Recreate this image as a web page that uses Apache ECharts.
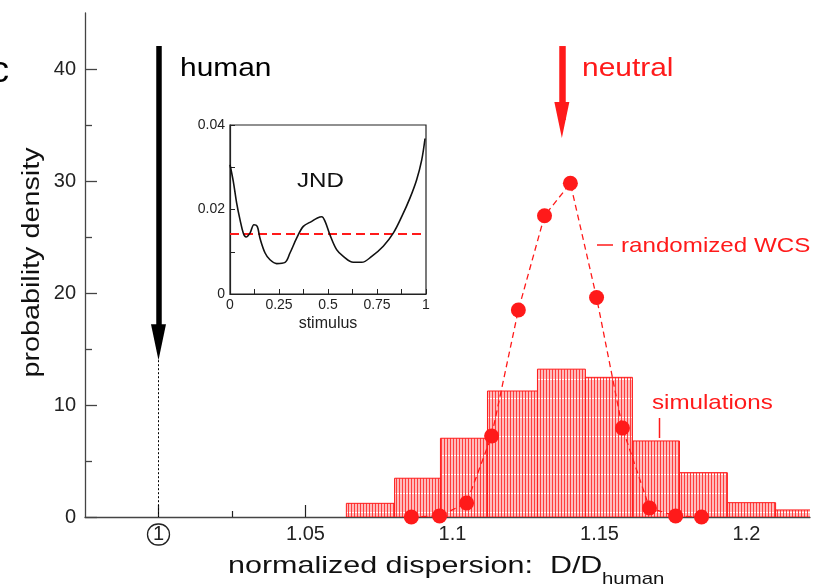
<!DOCTYPE html>
<html>
<head>
<meta charset="utf-8">
<script src="https://cdn.jsdelivr.net/npm/echarts@6/dist/echarts.min.js"></script>
<style>
  html, body { margin: 0; padding: 0; background: #fff; }
  #main { width: 818px; height: 584px; }
</style>
</head>
<body>
<div id="main"></div>
<script>
// histogram of simulations: bin edges and heights
const binEdges = [1.0639, 1.0803, 1.0959, 1.1119, 1.1289, 1.1452, 1.1612, 1.1772, 1.1935, 1.2099, 1.2263];
const binHeights = [1.22, 3.46, 7.03, 11.25, 13.2, 12.47, 6.79, 3.96, 1.28, 0.63];

// randomized WCS points
const wcsX = [1.086, 1.0956, 1.1048, 1.1133, 1.1224, 1.1313, 1.1401, 1.149, 1.1578, 1.167, 1.1759, 1.1847];
const wcsY = [0, 0.1, 1.25, 7.23, 18.48, 26.9, 29.8, 19.6, 7.95, 0.8, 0.1, 0];

// arrows (start, arrow anchor) and the dotted guide for human
const humanArrow = [[1.0, 42.05], [1.0, 15.6]];
const humanGuide = [[1.0, 14.0], [1.0, 0]];
const neutralArrow = [[1.1372, 42.05], [1.1372, 35.45]];

// inset: JND vs stimulus
const stimulus = [0, 0.017, 0.034, 0.051, 0.068, 0.082, 0.102, 0.122, 0.139, 0.153, 0.179, 0.204, 0.238, 0.281,
  0.306, 0.34, 0.374, 0.417, 0.446, 0.468, 0.485, 0.51, 0.544, 0.578, 0.629, 0.672, 0.723, 0.782, 0.833, 0.876,
  0.918, 0.952, 0.978, 0.995];
const jnd = [0.0306, 0.0266, 0.0215, 0.0176, 0.0144, 0.0135, 0.0144, 0.0164, 0.016, 0.0132, 0.0097, 0.0081, 0.0072,
  0.0075, 0.0097, 0.0132, 0.016, 0.0172, 0.018, 0.0183, 0.0172, 0.014, 0.0105, 0.0089, 0.0075, 0.0075, 0.0089,
  0.0113, 0.0144, 0.0183, 0.0227, 0.027, 0.0317, 0.0368];
const jndMean = 0.0142;

// tick labels
const xTickLabels = ['1', '1.05', '1.1', '1.15', '1.2'];
const yTickLabels = ['0', '10', '20', '30', '40'];

const RED = '#ff1a1a';
const FONT = '"Liberation Sans", Arial, sans-serif';

// hatched fill for the histogram
const tile = document.createElement('canvas');
tile.width = 3;
tile.height = 19;
const g = tile.getContext('2d');
g.fillStyle = '#ffbaba';
g.fillRect(0, 0, 3, 19);
g.fillStyle = '#ff3c3c';
g.fillRect(0, 0, 1, 19);
g.fillStyle = '#ffffff';
g.fillRect(1, 18, 2, 1);
const hatch = { image: tile, repeat: 'repeat' };

const myChart = echarts.init(document.getElementById('main'), null, { renderer: 'canvas' });

function fmt(v) {
  return String(Math.round(v * 1000) / 1000);
}

myChart.setOption({
  animation: false,
  textStyle: { fontFamily: FONT },
  grid: [
    // data grid
    { left: 85, right: 8, top: 13, bottom: 67 },
    // tick grid (1.0..1.2, 0..40)
    { left: 158.5, right: 71.5, top: 69, bottom: 67 },
    // inset
    { left: 230, right: 392, top: 125, bottom: 290, show: true, borderColor: '#222', borderWidth: 1.2, backgroundColor: '#fff' }
  ],
  xAxis: [
    {
      gridIndex: 0, type: 'value', min: 0.975, max: 1.2216,
      axisLine: { lineStyle: { color: '#444', width: 1.3 } },
      axisTick: { show: false }, axisLabel: { show: false }, splitLine: { show: false }
    },
    {
      gridIndex: 1, type: 'value', min: 1, max: 1.2, interval: 0.05,
      axisLine: { show: false },
      axisTick: { inside: true, length: 12, lineStyle: { color: '#222', width: 1.2 } },
      minorTick: { show: true, splitNumber: 2, length: 6, lineStyle: { color: '#222', width: 1.2 } },
      splitLine: { show: false },
      axisLabel: {
        fontSize: 20, color: '#222', margin: 7,
        formatter: (v) => {
          const i = Math.round((v - 1) / 0.05);
          return i === 0 ? '{c|' + xTickLabels[0] + '}' : xTickLabels[i];
        },
        rich: {
          c: { fontSize: 20, color: '#222', width: 22, height: 21, lineHeight: 21, align: 'center',
               borderColor: '#222', borderWidth: 1.3, borderRadius: 11 }
        }
      }
    },
    {
      gridIndex: 2, type: 'value', min: 0, max: 1, interval: 0.25,
      axisLine: { lineStyle: { color: '#222', width: 1.2 } },
      axisTick: { inside: true, length: 5, lineStyle: { color: '#222' } },
      minorTick: { show: true, splitNumber: 2, length: 5, lineStyle: { color: '#222' } },
      splitLine: { show: false },
      axisLabel: { fontSize: 14, color: '#222', margin: 4, formatter: fmt },
      name: 'stimulus', nameLocation: 'middle', nameGap: 22,
      nameTextStyle: { fontSize: 16, color: '#222' }
    }
  ],
  yAxis: [
    {
      gridIndex: 0, type: 'value', min: 0, max: 45,
      axisLine: { show: true, lineStyle: { color: '#444', width: 1.3 } },
      axisTick: { show: false }, axisLabel: { show: false }, splitLine: { show: false }
    },
    {
      gridIndex: 1, type: 'value', min: 0, max: 40, interval: 10, offset: 73.5,
      axisLine: { show: false },
      axisTick: { inside: true, length: 12, lineStyle: { color: '#444', width: 1.3 } },
      minorTick: { show: true, splitNumber: 2, length: 7, lineStyle: { color: '#444', width: 1.3 } },
      splitLine: { show: false },
      axisLabel: { fontSize: 20, color: '#222', margin: 9, formatter: (v) => yTickLabels[Math.round(v / 10)] }
    },
    {
      gridIndex: 2, type: 'value', min: 0, max: 0.04, interval: 0.02,
      axisLine: { show: true, lineStyle: { color: '#222', width: 1.2 } },
      axisTick: { inside: true, length: 5, lineStyle: { color: '#222' } },
      minorTick: { show: true, splitNumber: 2, length: 5, lineStyle: { color: '#222' } },
      splitLine: { show: false },
      axisLabel: { fontSize: 14, color: '#222', margin: 5, formatter: (v) => (v === 0 ? '0' : v.toFixed(2)) }
    }
  ],
  series: [
    {
      name: 'simulations',
      type: 'custom',
      xAxisIndex: 0, yAxisIndex: 0,
      clip: true,
      encode: { x: [0, 1], y: 2 },
      data: binHeights.map((h, i) => [binEdges[i], binEdges[i + 1], h]),
      renderItem: (params, api) => {
        const p0 = api.coord([api.value(0), api.value(2)]);
        const p1 = api.coord([api.value(1), 0]);
        return {
          type: 'rect',
          shape: { x: p0[0], y: p0[1], width: p1[0] - p0[0], height: p1[1] - p0[1] },
          style: { fill: hatch, stroke: RED, lineWidth: 1 }
        };
      },
      z: 2
    },
    {
      name: 'randomized WCS',
      type: 'line',
      xAxisIndex: 0, yAxisIndex: 0,
      data: wcsX.map((x, i) => [x, wcsY[i]]),
      symbol: 'circle', symbolSize: 15,
      itemStyle: { color: RED },
      lineStyle: { color: RED, width: 1.3, type: [6, 4] },
      z: 4,
      markLine: {
        silent: true,
        animation: false,
        label: { show: false },
        symbol: ['none', 'triangle'],
        symbolSize: [15, 36],
        data: [
          [
            { coord: humanArrow[0], lineStyle: { color: '#000', width: 5.5, type: 'solid' }, itemStyle: { color: '#000' } },
            { coord: humanArrow[1] }
          ],
          [
            { coord: neutralArrow[0], lineStyle: { color: RED, width: 6.5, type: 'solid' }, itemStyle: { color: RED } },
            { coord: neutralArrow[1] }
          ],
          [
            { coord: humanGuide[0], symbol: 'none', lineStyle: { color: '#000', width: 1, type: [2, 2] } },
            { coord: humanGuide[1], symbol: 'none' }
          ]
        ]
      }
    },
    {
      name: 'JND',
      type: 'line',
      xAxisIndex: 2, yAxisIndex: 2,
      data: stimulus.map((s, i) => [s, jnd[i]]),
      smooth: 0.35,
      showSymbol: false,
      lineStyle: { color: '#111', width: 1.6 },
      z: 5,
      markLine: {
        silent: true,
        symbol: 'none',
        precision: 5,
        label: { show: false },
        lineStyle: { color: RED, width: 2.2, type: [9, 5] },
        data: [{ yAxis: jndMean }]
      }
    }
  ],
  graphic: [
    { type: 'text', x: -9, y: 72, style: { text: 'c', font: '36px ' + FONT, fill: '#000', verticalAlign: 'middle' } },
    { type: 'text', x: 180, y: 69, scaleX: 1.15, style: { text: 'human', font: '26px ' + FONT, fill: '#000', verticalAlign: 'middle' } },
    { type: 'text', x: 582, y: 69, scaleX: 1.15, style: { text: 'neutral', font: '26px ' + FONT, fill: RED, verticalAlign: 'middle' } },
    { type: 'line', shape: { x1: 597, y1: 245, x2: 613, y2: 245 }, style: { stroke: RED, lineWidth: 1.5 } },
    { type: 'text', x: 621, y: 246, scaleX: 1.15, style: { text: 'randomized WCS', font: '21px ' + FONT, fill: RED, verticalAlign: 'middle' } },
    { type: 'text', x: 652, y: 403, scaleX: 1.15, style: { text: 'simulations', font: '21px ' + FONT, fill: RED, verticalAlign: 'middle' } },
    { type: 'line', shape: { x1: 659.5, y1: 418, x2: 659.5, y2: 438 }, style: { stroke: RED, lineWidth: 1.5 } },
    { type: 'text', x: 297, y: 181, scaleX: 1.15, z: 10, style: { text: 'JND', font: '21px ' + FONT, fill: '#111', verticalAlign: 'middle' } },
    // axis names
    { type: 'text', x: 32.5, y: 262.5, rotation: Math.PI / 2, scaleX: 1.25,
      style: { text: 'probability density', font: '23px ' + FONT, fill: '#111', align: 'center', verticalAlign: 'middle' } },
    { type: 'text', x: 228, y: 566, scaleX: 1.27,
      style: { text: 'normalized dispersion:  D/D', font: '24px ' + FONT, fill: '#111', verticalAlign: 'middle' } },
    { type: 'text', x: 602, y: 579, scaleX: 1.2,
      style: { text: 'human', font: '17px ' + FONT, fill: '#111', verticalAlign: 'middle' } }
  ]
});
</script>
</body>
</html>
